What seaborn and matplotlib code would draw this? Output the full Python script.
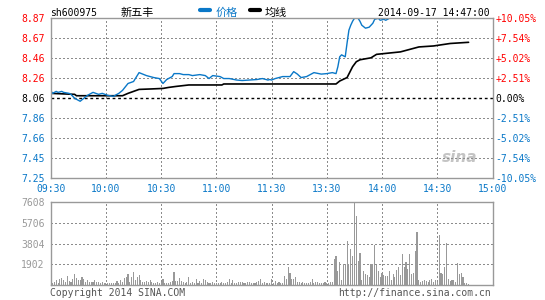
import numpy as np
import pandas as pd
import matplotlib
matplotlib.use("Agg")
import matplotlib.pyplot as plt
from matplotlib.lines import Line2D
import seaborn as sns

# ---------------- data ----------------
code = "sh600975"
name = "新五丰"
stamp = "2014-09-17 14:47:00"
legend_labels = ["价格", "均线"]
copyright_text = "Copyright 2014 SINA.COM"
url_text = "http://finance.sina.com.cn"

time_labels = ["09:30", "10:00", "10:30", "11:00", "11:30", "13:30", "14:00", "14:30", "15:00"]
price_labels = ["7.25", "7.45", "7.66", "7.86", "8.06", "8.26", "8.46", "8.67", "8.87"]
pct_labels = ["-10.05%", "-7.54%", "-5.02%", "-2.51%", "0.00%", "+2.51%", "+5.02%", "+7.54%", "+10.05%"]
vol_labels = ["1902", "3804", "5706", "7608"]
vol_ticks = [1902, 3804, 5706, 7608]
pre_close = 8.06
price_low, price_high = 7.25, 8.87
pct_limit = 10.05

# price line (minute index since 09:30, trading minutes) and values
price_min = [0, 1, 3, 4, 6, 7, 10, 11, 13, 16, 18, 20, 23, 26, 28, 31, 34, 37, 39, 42, 45, 48,
             52, 56, 59, 61, 63, 66, 67, 70, 72, 75, 77, 81, 84, 86, 88, 92, 94, 97, 101, 104,
             108, 112, 115, 118, 119,
             120, 122, 126, 130, 132, 134, 136, 139, 143, 147, 150, 153, 155, 156, 157, 158, 160,
             161, 162, 163, 164, 165, 167, 168, 169, 171, 173, 175, 176, 178, 179, 181, 182, 184, 227]
price_val = [8.14, 8.11, 8.13, 8.12, 8.13, 8.12, 8.11, 8.10, 8.06, 8.03, 8.06, 8.09, 8.12, 8.10,
             8.11, 8.09, 8.08, 8.11, 8.14, 8.21, 8.23, 8.32, 8.29, 8.27, 8.26, 8.21, 8.25, 8.28,
             8.31, 8.31, 8.30, 8.30, 8.29, 8.30, 8.29, 8.26, 8.29, 8.28, 8.26, 8.26, 8.245, 8.24,
             8.245, 8.25, 8.26, 8.245, 8.25,
             8.245, 8.26, 8.28, 8.28, 8.33, 8.305, 8.27, 8.28, 8.32, 8.305, 8.31, 8.32, 8.31,
             8.38, 8.48, 8.50, 8.48, 8.62, 8.75, 8.80, 8.84, 8.87, 8.87, 8.84, 8.80, 8.77, 8.78,
             8.82, 8.86, 8.87, 8.85, 8.86, 8.85, 8.87, 8.87]

# average price line
avg_min = [0, 13, 14, 39, 42, 48, 55, 61, 64, 68, 75, 93, 94, 120, 155, 157, 161, 164, 166,
           168, 174, 177, 190, 200, 208, 217, 227]
avg_val = [8.11, 8.10, 8.086, 8.086, 8.11, 8.15, 8.155, 8.16, 8.17, 8.18, 8.195, 8.195, 8.205,
           8.205, 8.205, 8.235, 8.27, 8.38, 8.43, 8.45, 8.47, 8.505, 8.53, 8.58, 8.59, 8.615, 8.627]

# per-minute volume, morning (120) and afternoon (108, up to 14:47)
vol_am = [364, 242, 333, 485, 242, 576, 636, 485, 303, 848, 424, 303, 545, 1030, 636, 485, 455,
          788, 606, 333, 485, 333, 333, 333, 485, 273, 333, 242, 333, 182, 242, 242, 182, 182,
          182, 182, 394, 242, 485, 333, 636, 727, 1030, 333, 788, 1242, 485, 727, 970, 485, 333,
          333, 424, 333, 485, 333, 242, 182, 303, 242, 333, 545, 242, 182, 242, 333, 424, 1242,
          424, 424, 636, 424, 333, 242, 333, 788, 242, 333, 182, 545, 242,
          424, 242, 545, 485, 333, 242, 242, 303, 242, 242, 242, 182, 333, 242, 182, 333, 545,
          242, 485, 242, 242, 333, 333, 333, 182, 242, 333, 333, 182, 182, 242, 333, 424, 545,
          242, 333, 182, 242, 182]
vol_pm = [545, 242, 424, 242, 333, 242, 242, 848, 545, 1700, 1150, 545, 545, 788, 333, 333, 242,
          333, 242, 242, 242, 333, 545, 182, 333, 333, 242, 242, 182, 333, 182, 242, 333, 333,
          2400, 2670,
          1333, 2151, 485, 1939, 1939, 4030, 1939, 3303, 2666, 7608, 6302, 2242, 2969, 485, 1333,
          1030, 939, 788, 1939, 1939, 3666, 1848, 1333, 788, 1091, 939, 848, 848, 1333, 485,
          1030, 788, 1394, 1636, 939, 2848, 1636, 2151, 1454, 2848, 1030, 1091, 3121, 4818, 485,
          333, 424, 485, 424, 333, 485, 545, 333, 485, 333, 4575, 1091, 1030, 1636, 3818, 545,
          424, 485, 485, 333, 2000, 1030, 1091, 788, 182, 182, 121]

# ---------------- styling ----------------
W, H = 545, 300
RED = "#ff0000"
BLUE = "#0a78c8"
GRAY = "#999999"
GRID = "#8c8c8c"
MONO = "DejaVu Sans Mono"
FS = 7

sns.set_theme(style="white", rc={"lines.scale_dashes": False})
plt.rcParams["font.family"] = [MONO, "Noto Sans CJK SC"]

fig = plt.figure(figsize=(W / 100, H / 100), dpi=100)
fig.patch.set_facecolor("white")


def fx(px):
    return px / W


def fy(py):
    return 1 - py / H


left, right = 50.7, 492.5
ax = fig.add_axes([fx(left), fy(178.3), fx(right - left), (178.3 - 18.3) / H])
axv = fig.add_axes([fx(left), fy(285.3), fx(right - left), (285.3 - 201.7) / H])

price_df = pd.DataFrame({"minute": price_min, "price": price_val})
avg_df = pd.DataFrame({"minute": avg_min, "price": avg_val})
vol_df = pd.DataFrame({"minute": np.concatenate([np.arange(len(vol_am)),
                                                 len(vol_am) + np.arange(len(vol_pm))]),
                       "volume": vol_am + vol_pm})

xt = np.linspace(0, 240, len(time_labels))
yt = np.linspace(price_low, price_high, len(price_labels))


def grid_line(a, v, vertical):
    kw = dict(color=GRID, lw=0.9, linestyle=(0, (1.0, 1.6)), zorder=1.5,
              antialiased=False)
    if vertical:
        a.axvline(v, **kw)
    else:
        a.axhline(v, **kw)


# ---- price panel ----
sns.lineplot(data=avg_df, x="minute", y="price", ax=ax, color="black", lw=1.2, legend=False, zorder=3)
sns.lineplot(data=price_df, x="minute", y="price", ax=ax, color=BLUE, lw=1.0, legend=False, zorder=4)

for v in xt[1:-1]:
    grid_line(ax, v, True)
for v in yt[1:-1]:
    if abs(v - pre_close) > 1e-6:
        grid_line(ax, v, False)
ax.axhline(pre_close, color="black", lw=1.0, linestyle=(0, (2, 2)), zorder=2)

ax.set_ylim(price_low, price_high)
ax.set_xlim(0, 240)
ax.set_yticks(yt)
ax.set_yticklabels(price_labels)
ax.set_xticks(xt)
ax.set_xticklabels(time_labels)
ax.set_xlabel("")
ax.set_ylabel("")
ax.tick_params(axis="both", length=0, labelsize=FS)
ax.tick_params(axis="y", pad=4.5)
ax.tick_params(axis="x", pad=4)
for lab, val in zip(ax.get_yticklabels(), yt):
    lab.set_fontfamily(MONO)
    if val > pre_close + 1e-6:
        lab.set_color(RED)
    elif val < pre_close - 1e-6:
        lab.set_color(BLUE)
    else:
        lab.set_color("black")
for lab in ax.get_xticklabels():
    lab.set_color(BLUE)
    lab.set_fontfamily(MONO)

ax2 = ax.twinx()
pt = np.linspace(-pct_limit, pct_limit, len(pct_labels))
ax2.set_ylim(-pct_limit, pct_limit)
ax2.set_yticks(pt)
ax2.set_yticklabels(pct_labels)
ax2.tick_params(axis="y", length=0, labelsize=FS, pad=2)
for s in ax2.spines.values():
    s.set_visible(False)
for lab, val in zip(ax2.get_yticklabels(), pt):
    lab.set_fontfamily(MONO)
    if val > 1e-6:
        lab.set_color(RED)
    elif val < -1e-6:
        lab.set_color(BLUE)
    else:
        lab.set_color("black")
ax2.grid(False)

# watermark
ax.text(0.965, 0.13, "sina", transform=ax.transAxes, ha="right", va="center",
        fontsize=11, fontstyle="italic", fontweight="bold", color="#c4c4c4",
        family="DejaVu Sans", zorder=0)

# ---- volume panel ----
sns.barplot(data=vol_df, x="minute", y="volume", ax=axv, native_scale=True, color=GRAY,
            saturation=1, width=0.6, errorbar=None, linewidth=0, zorder=2)
for v in xt[1:-1]:
    grid_line(axv, v, True)
for v in vol_ticks[:-1]:
    grid_line(axv, v, False)
axv.set_xlim(0, 240)
axv.set_ylim(0, vol_ticks[-1])
axv.set_yticks(vol_ticks)
axv.set_yticklabels(vol_labels)
axv.set_xticks([])
axv.set_xlabel("")
axv.set_ylabel("")
axv.tick_params(axis="y", length=0, labelsize=FS, pad=4.5, colors=GRAY)
for lab in axv.get_yticklabels():
    lab.set_fontfamily(MONO)

for a in (ax, axv):
    a.set_facecolor("white")
    for s in a.spines.values():
        s.set_color(GRAY)
        s.set_linewidth(1.0)
        s.set_visible(True)
        s.set_zorder(5)

# ---- header / footer ----
ty = fy(12.5)
fig.text(fx(50), ty, code, ha="left", va="center", fontsize=FS, color="black", family=MONO)
fig.text(fx(121), ty, name, ha="left", va="center", fontsize=8,
         color="black", family=["Noto Sans CJK SC", "DejaVu Sans"])
fig.add_artist(Line2D([fx(200), fx(210)], [fy(10), fy(10)], color=BLUE, lw=3,
                      transform=fig.transFigure))
fig.text(fx(216), ty, legend_labels[0], ha="left", va="center", fontsize=8,
         color=BLUE, family=["Noto Sans CJK SC", "DejaVu Sans"])
fig.add_artist(Line2D([fx(250), fx(260)], [fy(10), fy(10)], color="black", lw=3,
                      transform=fig.transFigure))
fig.text(fx(265), ty, legend_labels[1], ha="left", va="center", fontsize=8,
         color="black", family=["Noto Sans CJK SC", "DejaVu Sans"])
fig.text(fx(490), ty, stamp, ha="right", va="center", fontsize=FS, color="black", family=MONO)

fig.text(fx(50), fy(292.5), copyright_text, ha="left", va="center", fontsize=FS,
         color="#555555", family=MONO)
fig.text(fx(491), fy(292.5), url_text, ha="right", va="center", fontsize=FS,
         color="#555555", family=MONO)

fig.savefig("out.png", dpi=100, facecolor="white")
